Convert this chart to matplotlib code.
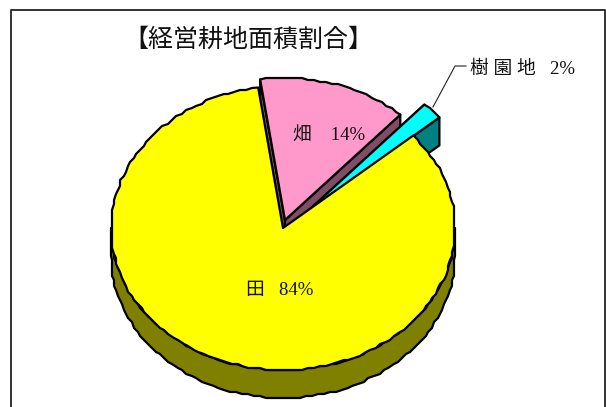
import numpy as np
import matplotlib
matplotlib.use("Agg")
import matplotlib.pyplot as plt
from matplotlib.patches import Polygon

plt.rcParams['font.family'] = ['Liberation Serif', 'Noto Sans CJK JP']

# slices in drawing order, clockwise from the start angle
names = ['畑', '樹 園 地', '田']
shares = [14, 2, 84]
top_colors = ['#FF99CC', '#00FFFF', '#FFFF00']
side_colors = ['#804D66', '#008080', '#808000']

title = '【経営耕地面積割合】'

W, H = 606, 407
CX, CY = 283, 228
RX, RY = 172, 142
DEPTH = 28
START = -8.3
# how far each slice is pulled out of the pie, in pixels
offsets = [(2, -8), (26, -18), (0, 0)]


def rim(a0, a1, ox, oy):
    # points on the tilted rim, angles measured clockwise from north
    n = max(2, int(abs(a1 - a0) / 2) + 1)
    a = np.radians(np.linspace(a0, a1, n))
    pts = np.column_stack([CX + ox + RX * np.sin(a), CY + oy - RY * np.cos(a)])
    # a small grid gives the rim its slightly stepped outline
    pts[1:-1] = np.round(pts[1:-1] / 2) * 2
    return pts


def add_poly(ax, pts, color):
    ax.add_patch(Polygon(pts, closed=True, facecolor=color, edgecolor='black',
                         linewidth=1.6, joinstyle='round'))


def draw_slice(ax, a0, a1, off, top, side):
    ox, oy = off
    apex = np.array([CX + ox, CY + oy])
    down = np.array([0, DEPTH])
    if a1 - a0 < 180:
        # the two cut faces of a small slice
        for ang in (a0, a1):
            end = rim(ang, ang, ox, oy)[0]
            add_poly(ax, [apex, end, end + down, apex + down], side)
    # outer wall, only the part turned towards the viewer
    lo, hi = max(a0, 90), min(a1, 270)
    if lo < hi:
        front = rim(lo, hi, ox, oy)
        add_poly(ax, np.vstack([front, (front + down)[::-1]]), side)
    add_poly(ax, np.vstack([apex, rim(a0, a1, ox, oy)]), top)


fig = plt.figure(figsize=(W / 100, H / 100), dpi=100)
ax = fig.add_axes([0, 0, 1, 1])
ax.set_xlim(0, W)
ax.set_ylim(H, 0)
ax.axis('off')

# chart frame, open at the bottom
ax.plot([10.5, 10.5, 604.5, 604.5], [H, 10, 10, H], color='#222222', lw=1.3)

bounds = START + np.cumsum([0] + shares) * 3.6
for i in range(len(shares)):
    draw_slice(ax, bounds[i], bounds[i + 1], offsets[i], top_colors[i], side_colors[i])

# leader line for the small slice
ax.plot([433, 455, 466], [107, 66, 66], color='#222222', lw=0.8)

ax.text(248, 40, title, fontsize=18, ha='center', va='center', color='#111111')
ax.text(470, 69, f'{names[1]}   {shares[1]}%', fontsize=13.5, ha='left', va='center', color='#111111')
ax.text(329, 135, f'{names[0]}    {shares[0]}%', fontsize=13.5, ha='center', va='center', color='#111111')
ax.text(280, 290, f'{names[2]}   {shares[2]}%', fontsize=13.5, ha='center', va='center', color='#111111')

fig.savefig('out.png', dpi=100)
